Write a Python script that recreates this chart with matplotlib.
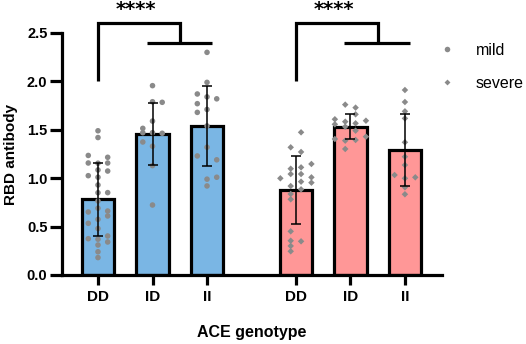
import matplotlib
matplotlib.use("Agg")
import matplotlib.pyplot as plt
from matplotlib.lines import Line2D

# ---------------- data ----------------
genotypes = ["DD", "ID", "II"]
groups = ["mild", "severe"]

mild_means = [0.78, 1.455, 1.54]
mild_sd = [0.375, 0.32, 0.415]
severe_means = [0.88, 1.53, 1.29]
severe_sd = [0.35, 0.13, 0.37]

# individual points (values) with their swarm slot
mild_DD = [1.49, 1.42, 1.155, 1.085, 1.01, 0.93, 0.85, 0.765, 0.69, 0.575, 0.48, 0.37, 0.31, 0.24, 0.18,
           1.235, 1.157, 1.026, 0.651, 0.534, 0.375,
           1.216, 1.157, 1.074, 0.851, 0.661, 0.61, 0.403, 0.341]
mild_DD_slot = [0] * 15 + [-1] * 6 + [1] * 8
mild_ID = [1.956, 1.79, 1.784, 1.59, 1.515, 1.47, 1.47, 1.464, 1.374, 1.33, 1.13, 0.723]
mild_ID_slot = [0, 0, 1, 0, -1, -1, 0, 1, -1, 0, 0, 0]
mild_II = [2.30, 1.99, 1.87, 1.84, 1.82, 1.77, 1.71, 1.68, 1.54, 1.32, 1.23, 1.19, 1.01, 0.99, 0.92]
mild_II_slot = [0, 0, -1, 0, 1, -1, 0, -1, 0, 0, -1, 1, 1, 0, 0]

severe_DD = [1.474, 1.319, 1.271, 1.147, 1.098, 1.112, 0.999, 1.043, 1.043, 1.009, 0.964, 0.954,
             0.919, 0.885, 0.837, 0.782, 0.451, 0.354, 0.348, 0.30, 0.245]
severe_DD_slot = [0.5, -0.5, 0.5, 1.5, -0.5, 0.5, -1.5, -0.5, 0.5, 1.5, 0.5, 1.5,
                  -0.5, 0.5, -0.5, -0.5, -0.5, -0.5, 0.5, -0.5, -0.5]
severe_ID = [1.76, 1.729, 1.609, 1.66, 1.594, 1.557, 1.584, 1.567, 1.532, 1.491, 1.429, 1.405, 1.388, 1.395, 1.302]
severe_ID_slot = [-0.5, 0.5, -1.5, 0.5, 1.5, -1.5, -0.5, 0.5, -0.5, 0.5, 1.5, -1.5, -0.5, 0.5, -0.5]
severe_II = [1.911, 1.787, 1.691, 1.618, 1.371, 1.222, 1.136, 1.033, 1.009, 0.999, 0.906, 0.834]
severe_II_slot = [0, 0, 0, 0, 0, 0, 0, -1, 1, 0, 0, 0]

sig_label = "****"

# ---------------- style ----------------
plt.rcParams['font.family'] = ['Liberation Sans', 'DejaVu Sans']
W, H = 526, 344
fig = plt.figure(figsize=(W / 100, H / 100), dpi=100)
ax = fig.add_axes([62 / W, 1 - 275 / H, (442 - 62) / W, (275 - 33) / H])

mild_x = [0, 1, 2]
severe_x = [3.63, 4.63, 5.63]
bar_w = 0.60
mild_col = "#7ab6e4"
severe_col = "#ff9797"
pt_col = "#8a8a8a"
lw = 2.3

ax.bar(mild_x, mild_means, width=bar_w, color=mild_col, edgecolor="black", linewidth=lw, zorder=2)
ax.bar(severe_x, severe_means, width=bar_w, color=severe_col, edgecolor="black", linewidth=lw, zorder=2)

mild_sets = [(mild_DD, mild_DD_slot), (mild_ID, mild_ID_slot), (mild_II, mild_II_slot)]
severe_sets = [(severe_DD, severe_DD_slot), (severe_ID, severe_ID_slot), (severe_II, severe_II_slot)]
for xc, (vals, slots) in zip(mild_x, mild_sets):
    ax.scatter([xc + 0.178 * s for s in slots], vals, s=16, color=pt_col, edgecolors="none", zorder=3)
for xc, (vals, slots) in zip(severe_x, severe_sets):
    ax.scatter([xc + 0.19 * s for s in slots], vals, s=11, marker="D", color=pt_col, edgecolors="none", zorder=3)

ax.errorbar(mild_x, mild_means, yerr=mild_sd, fmt="none", ecolor="black", elinewidth=1.1,
            capsize=3.3, capthick=1.1, zorder=4)
ax.errorbar(severe_x, severe_means, yerr=severe_sd, fmt="none", ecolor="black", elinewidth=1.1,
            capsize=3.3, capthick=1.1, zorder=4)

# significance brackets
for xs in (mild_x, severe_x):
    mid = (xs[1] + xs[2]) / 2
    ax.plot([xs[0], xs[0], mid, mid], [2.0, 2.6, 2.6, 2.4], color="black", lw=lw,
            clip_on=False, solid_joinstyle="miter", solid_capstyle="butt", zorder=5)
    ax.plot([xs[1] - 0.11, xs[2] + 0.1], [2.4, 2.4], color="black", lw=lw, clip_on=False,
            solid_capstyle="butt", zorder=5)
    ax.text((xs[0] + mid) / 2 - 0.05, 2.745, sig_label, ha="center", va="center", fontsize=14,
            fontweight="bold", family="DejaVu Sans", clip_on=False)

ax.set_xlim(-0.66, 6.31)
ax.set_ylim(0, 2.5)
ax.set_yticks([0, 0.5, 1.0, 1.5, 2.0, 2.5])
ax.set_yticklabels(["0.0", "0.5", "1.0", "1.5", "2.0", "2.5"])
ax.set_xticks(mild_x + severe_x)
ax.set_xticklabels(genotypes + genotypes)
for sp in ("top", "right"):
    ax.spines[sp].set_visible(False)
for sp in ("left", "bottom"):
    ax.spines[sp].set_linewidth(lw)
ax.tick_params(axis="y", length=8.5, width=lw, pad=2, labelsize=10.5)
ax.tick_params(axis="x", length=7, width=lw, pad=4, labelsize=11)
for lab in ax.get_xticklabels() + ax.get_yticklabels():
    lab.set_fontweight("bold")

ax.set_ylabel("RBD antibody", fontsize=11, fontweight="bold", labelpad=6)
ax.set_xlabel("ACE genotype", fontsize=11.5, fontweight="bold", labelpad=15)

handles = [Line2D([], [], ls="none", marker="o", ms=4, color=pt_col, mec="none"),
           Line2D([], [], ls="none", marker="D", ms=3, color=pt_col, mec="none")]
fig.legend(handles, groups, loc="upper left", bbox_to_anchor=(439 / W, 1 - 43 / H), frameon=False,
           fontsize=11.5, handletextpad=1.3, labelspacing=1.1, handlelength=1.0, borderaxespad=0,
           borderpad=0)

fig.savefig("out.png", dpi=100)
